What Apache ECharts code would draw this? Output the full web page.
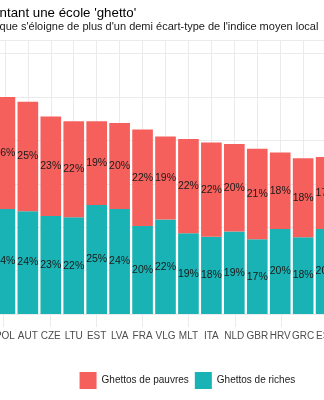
<!DOCTYPE html>
<html>
<head>
<meta charset="utf-8">
<script src="https://cdn.jsdelivr.net/npm/echarts@6/dist/echarts.min.js"></script>
<style>html,body{margin:0;padding:0;background:#fff;overflow:hidden;width:324px;height:400px;position:relative}#c{position:absolute;left:-7.55px;top:0;width:347px;height:400px}</style>
</head>
<body>
<div id="c"></div>
<script>
const categories = ['POL','AUT','CZE','LTU','EST','LVA','FRA','VLG','MLT','ITA','NLD','GBR','HRV','GRC','ESP'];
const ghettosRiches = [24.2,23.7,22.6,22.3,25.1,24.2,20.3,21.8,18.6,17.8,19.0,17.2,19.6,17.7,19.6];
const ghettosPauvres = [25.8,25.2,22.9,22.1,19.3,19.8,22.2,19.1,21.7,21.7,20.2,20.9,17.6,18.2,16.6];
const yTicks = [0,10,20,30,40,50,60];

const FONT = '"Liberation Sans", Arial, sans-serif';
const RED = '#F5605C';
const TEAL = '#19B3B5';
const GRIDC = '#EBEBEB';
const OFF = 7.55;
const chart = echarts.init(document.getElementById('c'), null, {renderer:'canvas'});
const lbl = {
  show: true, position: 'inside', color: '#1a1a1a', fontSize: 10.5, fontFamily: FONT,
  formatter: p => Math.round(p.value) + '%'
};
chart.setOption({
  animation: false,
  backgroundColor: '#fff',
  title: [
    {text: "ntant une école 'ghetto'", left: OFF, top: 7, padding: 0, textStyle: {fontFamily: FONT, fontSize: 13.3, fontWeight: 'normal', color: '#000'}},
    {text: "que s'éloigne de plus d'un demi écart-type de l'indice moyen local", left: OFF, top: 21, padding: 0, textStyle: {fontFamily: FONT, fontSize: 11, fontWeight: 'normal', color: '#1a1a1a'}}
  ],
  legend: {
    data: ['Ghettos de pauvres', 'Ghettos de riches'],
    left: 80 + OFF, top: 372, padding: 0, icon: 'rect', itemWidth: 17, itemHeight: 17, itemGap: 6,
    textStyle: {fontFamily: FONT, fontSize: 10, color: '#1a1a1a'}
  },
  grid: [
    {left: 0, right: 0, top: 40.6, bottom: 86, containLabel: false},
    {left: 0, right: 0, top: 314, height: 13, containLabel: false}
  ],
  xAxis: [
    {
      type: 'category', data: categories, gridIndex: 0,
      axisLine: {show: false}, axisTick: {show: false},
      splitLine: {show: true, alignWithLabel: true, lineStyle: {color: GRIDC, width: 1}},
      axisLabel: {margin: 17, fontFamily: FONT, fontSize: 10, color: '#4d4d4d', interval: 0}
    },
    {
      type: 'category', data: categories, gridIndex: 1,
      axisLine: {show: false}, axisTick: {show: false}, axisLabel: {show: false},
      splitLine: {show: true, alignWithLabel: true, lineStyle: {color: GRIDC, width: 1}}
    }
  ],
  yAxis: [
    {
      type: 'value', min: 0, max: 63, interval: 10, gridIndex: 0,
      axisLabel: {show: false}, axisLine: {show: false}, axisTick: {show: false},
      splitLine: {show: true, lineStyle: {color: GRIDC, width: 1}}
    },
    {
      type: 'value', min: 0, max: 1, gridIndex: 1, show: false,
      splitLine: {show: false}
    }
  ],
  series: [
    {name: 'Ghettos de riches', type: 'bar', stack: 't', data: ghettosRiches, barWidth: '90%',
     itemStyle: {color: TEAL}, label: lbl},
    {name: 'Ghettos de pauvres', type: 'bar', stack: 't', data: ghettosPauvres, barWidth: '90%',
     itemStyle: {color: RED}, label: lbl}
  ]
});
</script>
</body>
</html>
